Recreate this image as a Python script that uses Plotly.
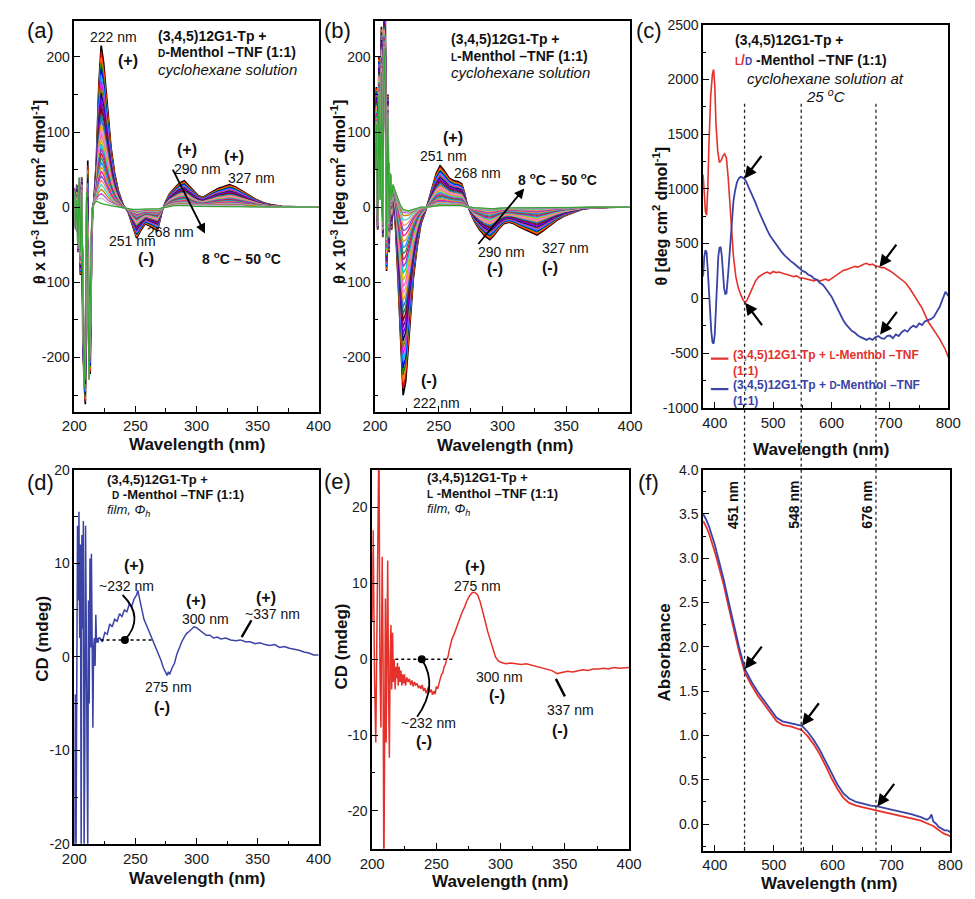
import plotly.graph_objects as go

W, H = 975, 899
FONT = "Liberation Sans, Arial, sans-serif"
BLUE = "#3b43a6"
RED = "#e5312a"

# ---------------- (a)/(b) temperature-dependent CD in cyclohexane ----------------
wl_sol = [200, 201, 202, 203, 204, 205, 206, 207, 208,
          209, 210, 211, 212, 213, 214, 215, 216,
          218, 220, 222, 224, 226, 228, 230,
          233, 236, 240, 244, 248,
          251, 254, 258, 262, 265, 268, 270, 272, 275, 278,
          282, 286, 290, 293, 297, 301, 305, 309, 313, 318,
          322, 327, 332, 337, 342, 348, 355, 362, 370, 380,
          390, 400]

# D-menthol complex, 8 C (outermost) and 50 C (innermost) spectra
theta_d_8C = [25, -20, 30, -60, 15, -90, 40, -180, -230,
              -262, -120, 62, -200, -222, -80, 0, 8,
              60, 160, 215, 192, 152, 115, 80,
              45, 22, 3, -6, -26,
              -41, -32, -22, -25, -28, -31, -18, -4, 8, 18,
              25, 32, 35, 30, 22, 16, 13, 17, 21, 25,
              27, 30, 27, 22, 17, 11, 6, 3, 1, 0,
              0, 0]
theta_d_50C = [20, -30, 10, -50, 40, -60, 20, -120, -240,
               -170, 20, -100, -230, -140, -30, 0, 4,
               8, 6, 5, 4, 3, 2, 2,
               1, 0, -1, -2, -3,
               -3, -3, -2, -2, -2, -2, -2, -1, 0, 1,
               2, 2, 2, 2, 1, 1, 1, 1, 1, 1,
               1, 1, 1, 1, 0, 0, 0, 0, 0, 0,
               0, 0]
# 222 nm band height of every recorded temperature, 8 C -> 50 C
peak222_d = [215, 207, 199, 192, 184, 176, 168, 160, 152, 145, 138, 131, 124, 117, 110, 103,
             97, 90, 84, 78, 72, 66, 60, 54, 48, 42, 36, 30, 24, 18, 12, 5]

# L-menthol complex
theta_l_8C = [60, 160, -30, 200, 20, 240, -40, 265, 262,
              -85, 150, -60, 40, -30, 10, -5, -25,
              -95, -180, -250, -232, -188, -140, -95,
              -52, -22, -3, 20, 45,
              55, 49, 39, 35, 34, 31, 20, 5, -8, -19,
              -30, -38, -43, -38, -29, -22, -20, -22, -26, -30,
              -33, -37, -31, -24, -18, -12, -7, -3, -1, 0,
              0, 0]
theta_l_50C = [50, 110, -20, 150, 10, 180, -20, 210, 170,
               -40, 120, -20, 45, 10, 30, 25, 20,
               10, 2, -3, -4, -5, -4, -3,
               -1, 0, 0, 1, 2,
               2, 2, 2, 2, 2, 2, 1, 0, 0, -1,
               -1, -2, -2, -2, -1, -1, -1, -1, -1, -1,
               -1, -1, -1, 0, 0, 0, 0, 0, 0, 0,
               0, 0]
peak222_l = [-250, -241, -232, -223, -214, -205, -196, -187, -178, -169, -160, -151, -142, -133,
             -124, -115, -106, -97, -88, -79, -70, -62, -54, -46, -38, -31, -24, -17, -11, -7, -5, -3]

curve_colors = ["#000000", "#ff0000", "#ff7f00", "#007f00", "#0000ff", "#00bfff", "#ff00ff", "#808000",
                "#000080", "#8000ff", "#800080", "#800000", "#008080", "#4169e1", "#ffa500", "#ee82ee",
                "#ff69b4", "#c8c800", "#00ced1", "#9932cc", "#dc143c", "#2e8b57", "#1e90ff", "#daa520",
                "#ff1493", "#6a5acd", "#ff8c69", "#48d1cc", "#b8860b", "#ba55d3", "#c0c0c0", "#33a532"]

# ---------------- (c) CD at 25 C, visible range ----------------
wl_c_red = [380, 382, 384, 386, 388, 390, 393, 396, 398, 400,
            402, 405, 408, 411, 414, 417, 420, 423, 426, 429,
            432, 436, 440, 444, 448, 452, 456, 460, 465, 470,
            475, 480, 485, 490, 495, 500, 505, 510, 515, 520,
            525, 530, 535, 540, 545, 550, 555, 560, 565, 570,
            575, 580, 585, 590, 595, 600, 605, 610, 615, 620,
            625, 630, 635, 640, 645, 650, 655, 660, 665, 670,
            675, 680, 685, 690, 695, 700, 705, 710, 715, 720,
            727, 735, 740, 748, 755, 765, 775, 785, 795, 800]
theta_c_red = [1130, 950, 790, 760, 1000, 1400, 1850, 2050, 2090, 1950,
               1600, 1350, 1240, 1260, 1300, 1320, 1280, 1100, 880, 600,
               380, 200, 100, 40, -10, -40, -10, 40, 100, 160,
               195, 215, 230, 240, 225, 245, 235, 240, 228, 222,
               215, 205, 198, 205, 188, 185, 178, 172, 168, 160,
               170, 158, 168, 175, 162, 180, 200, 222, 238, 255,
               262, 272, 282, 292, 285, 302, 312, 320, 305, 312,
               295, 290, 280, 282, 262, 250, 232, 212, 195, 175,
               140, 80, 40, -30, -90, -210, -290, -370, -470, -540]

wl_c_blue = [380, 382, 384, 386, 388, 390, 392, 394, 396, 398,
             400, 402, 404, 406, 408, 410, 412, 414, 416, 418,
             420, 423, 426, 429, 432, 435, 438, 441, 444, 447,
             450, 453, 456, 460, 465, 470, 475, 480, 485, 490,
             495, 500, 505, 510, 515, 520, 525, 530, 535, 540,
             545, 550, 555, 560, 565, 570, 575, 580, 585, 590,
             595, 600, 605, 610, 615, 620, 625, 630, 635, 640,
             645, 650, 655, 660, 665, 670, 675, 680, 685, 690,
             695, 700, 705, 710, 715, 720, 725, 730, 735, 740,
             745, 750, 755, 760, 765, 770, 775, 780, 785, 790,
             795, 800]
theta_c_blue = [200, 380, 440, 420, 260, 60, -150, -300, -400, -415,
                -330, -80, 180, 380, 460, 470, 390, 220, 90, 40,
                45, 230, 480, 730, 890, 990, 1060, 1095, 1110, 1105,
                1095, 1075, 1040, 1000, 930, 870, 800, 740, 670, 620,
                570, 530, 490, 450, 420, 390, 360, 340, 320, 300,
                275, 250, 240, 215, 205, 180, 170, 140, 125, 90,
                55, 15, -40, -95, -150, -200, -240, -270, -300, -315,
                -340, -355, -370, -380, -365, -380, -355, -345, -365, -370,
                -345, -340, -365, -330, -345, -310, -290, -305, -270, -250,
                -265, -230, -245, -210, -200, -190, -170, -120, -80, -10,
                60, 20]

# ---------------- (d)/(e) film CD ----------------
wl_film_d = [200, 200.7, 201.4, 202, 202.6, 203.2, 203.8, 204.4, 205, 205.6,
             206.2, 206.8, 207.4, 208, 208.6, 209.2, 209.8, 210.4, 211, 211.6,
             212.2, 212.8, 213.4, 214, 214.6, 215.2, 215.8, 216.4, 217, 217.6,
             218.2, 218.8, 219.4, 220,
             221, 223, 225, 227, 229, 231, 233, 235, 237, 239,
             241, 243, 245, 247, 249, 251, 252, 253, 255, 257,
             259, 261, 263, 265, 267, 269, 271, 273, 275, 276,
             277, 278, 280, 282, 284, 286, 288, 290, 292, 294,
             296, 298, 300, 302, 305, 308, 311, 314, 317, 320,
             324, 328, 332, 336, 340, 344, 348, 352, 356, 360,
             364, 368, 372, 376, 380, 384, 388, 392, 396, 400]
cd_film_d = [-21, -4, -21, 3, 14, 6, 15.5, 2, 12, -21,
             13, 3, 14.5, -21, -10, 14, 2, -21, -21, 6,
             -5, 10.5, 1, 11, 2, -7.6, 1, 2, -1, 4.5,
             1.5, 2, 1.5, 2,
             2.0, 1.6, 2.6, 2.4, 3.5, 3.2, 4.0, 3.8, 4.6, 4.3,
             5.0, 4.8, 5.6, 5.4, 6.2, 6.6, 7.1, 6.5, 5.2, 4.0,
             3.4, 2.8, 2.2, 1.4, 0.8, 0.2, -0.4, -1.2, -1.8, -2.0,
             -1.6, -1.9, -1.2, -0.7, 0.3, 1.0, 1.6, 2.1, 2.5, 2.7,
             3.0, 3.2, 3.1, 2.9, 2.6, 2.3, 2.3, 2.0, 2.1, 1.9,
             2.0, 1.8, 1.7, 1.8, 1.6, 1.6, 1.4, 1.5, 1.3, 1.2,
             1.3, 1.0, 1.1, 0.9, 0.8, 0.7, 0.5, 0.4, 0.2, 0.2]

wl_film_l = ([200, 200.8, 201.8, 202.8, 203.6, 204.4, 205.3, 206, 206.8, 207.8,
              208.5, 209.1, 209.8, 210.3, 210.9, 211.5, 212.1, 212.8, 213.4, 214,
              214.6, 215.2, 215.9, 216.5, 217.1, 217.9, 218.5, 219.1, 219.7, 220.3,
              221, 221.7, 222.4, 223.1, 223.8, 224.5, 225.2, 226]
             + list(range(227, 260)) + list(range(260, 301, 2)) + list(range(304, 401, 4)))
cd_film_l = [5, 17, -2, -11, 2, 10, 30, 0, -9, 13.5,
             0, -30, -5, 8, -11, 4, 13, -5, -13, 0,
             4.5, -4, 3.5, -3, 0, -4, -1, -2.5, -0.5, -3.5,
             -1, -3, -1.5, -3.5, -2, -3.2, -2, -3.5,
             -2.4, -3.0, -2.6, -3.4, -2.8, -3.6, -3.0, -3.4, -3.2, -3.8,
             -3.5, -3.9, -3.4, -4.2, -3.8, -4.5, -3.9, -3.6, -4.4, -4.0,
             -4.7, -4.2, -4.6, -3.6, -3.9, -3.0, -2.6, -2.0, -1.8, -1.0,
             -0.7, 0.0, 0.3,
             1.2, 2.6, 3.4, 4.4, 5.3, 6.2, 6.9, 7.8, 8.4, 8.8,
             8.8, 8.5, 7.6, 6.4, 5.0, 3.6, 2.4, 1.2, 0.3, -0.2, -0.4,
             -0.6, -0.5, -0.6, -0.7, -0.6, -0.8, -0.9, -1.1, -1.3, -1.5,
             -1.9, -1.8, -1.6, -1.7, -1.5, -1.4, -1.5, -1.3, -1.3, -1.2,
             -1.3, -1.1, -1.2, -1.1, -1.1]

# ---------------- (f) absorbance ----------------
wl_abs = [380, 385, 390, 395, 400, 405, 410, 415, 423, 432,
          441, 451, 462, 473, 486, 495, 505, 515, 530, 548,
          558, 568, 578, 588, 598, 608, 618, 628, 640, 652,
          665, 676, 690, 705, 720, 735, 750, 760, 765, 768,
          771, 775, 780, 785, 790, 795, 800]
abs_d = [3.50, 3.44, 3.36, 3.26, 3.15, 3.02, 2.90, 2.76, 2.52, 2.26,
         2.00, 1.75, 1.61, 1.49, 1.37, 1.28, 1.20, 1.16, 1.14, 1.11,
         1.04, 0.95, 0.84, 0.71, 0.57, 0.45, 0.35, 0.29, 0.25, 0.23,
         0.21, 0.20, 0.18, 0.15, 0.13, 0.11, 0.08, 0.05, 0.07, 0.11,
         0.03, 0.01, -0.03, -0.05, -0.07, -0.07, -0.09]
abs_l = [3.42, 3.36, 3.28, 3.18, 3.07, 2.95, 2.83, 2.70, 2.46, 2.21,
         1.95, 1.71, 1.57, 1.45, 1.33, 1.24, 1.16, 1.12, 1.10, 1.06,
         0.99, 0.90, 0.79, 0.66, 0.52, 0.40, 0.30, 0.24, 0.21, 0.19,
         0.17, 0.16, 0.14, 0.11, 0.09, 0.07, 0.04, 0.01, 0.00, -0.01,
         -0.02, -0.04, -0.07, -0.09, -0.11, -0.12, -0.14]

marked_wl = [451, 548, 676]


# ---------------- helpers ----------------
def fx(x):
    return x / W


def fy(y):
    return 1 - y / H


def blend(top, base, peak, i_ref):
    f = (peak - base[i_ref]) / (top[i_ref] - base[i_ref])
    return [b + f * (t - b) for t, b in zip(top, base)]


def axis(rng, dom, anchor, vals, texts, minor0, minor_dt, size=15):
    return dict(range=rng, domain=dom, anchor=anchor, showline=True, linecolor="black",
                linewidth=1.5, mirror=True, ticks="inside", ticklen=6, tickwidth=1.3,
                tickcolor="black", tickmode="array", tickvals=vals, ticktext=texts,
                tickfont=dict(family=FONT, size=size, color="#1a1a1a"),
                minor=dict(ticks="inside", ticklen=3.5, tickwidth=1, tickcolor="black",
                           tickmode="linear", tick0=minor0, dtick=minor_dt),
                showgrid=False, zeroline=False)


boxes = {  # left, right, top, bottom in pixels
    "": (63, 314, 13, 411),
    "2": (372, 634, 13, 411),
    "3": (709, 961, 17, 407),
    "4": (63, 314, 470, 851),
    "5": (369, 633, 470, 856),
    "6": (709, 963, 470, 858),
}


def xdom(k):
    return [fx(boxes[k][0]), fx(boxes[k][1])]


def ydom(k):
    return [fy(boxes[k][3]), fy(boxes[k][2])]


fig = go.Figure()

# (a) and (b): temperature series
i222 = wl_sol.index(222)
for k, pk in enumerate(peak222_d):
    fig.add_trace(go.Scatter(x=wl_sol, y=blend(theta_d_8C, theta_d_50C, pk, i222), mode="lines",
                             line=dict(color=curve_colors[k], width=1.7 if k == 0 else 1.3),
                             xaxis="x", yaxis="y", showlegend=False, hoverinfo="skip"))
for k, pk in enumerate(peak222_l):
    fig.add_trace(go.Scatter(x=wl_sol, y=blend(theta_l_8C, theta_l_50C, pk, i222), mode="lines",
                             line=dict(color=curve_colors[k], width=1.7 if k == 0 else 1.3),
                             xaxis="x2", yaxis="y2", showlegend=False, hoverinfo="skip"))

# (c)
fig.add_trace(go.Scatter(x=wl_c_red, y=theta_c_red, mode="lines", line=dict(color=RED, width=1.6),
                         xaxis="x3", yaxis="y3", showlegend=False))
fig.add_trace(go.Scatter(x=wl_c_blue, y=theta_c_blue, mode="lines", line=dict(color=BLUE, width=1.8),
                         xaxis="x3", yaxis="y3", showlegend=False))

# (d)
fig.add_trace(go.Scatter(x=wl_film_d, y=cd_film_d, mode="lines", line=dict(color=BLUE, width=1.5),
                         xaxis="x4", yaxis="y4", showlegend=False))
fig.add_trace(go.Scatter(x=[221.5, 264], y=[1.8, 1.8], mode="lines",
                         line=dict(color="black", width=1.5, dash="dot"),
                         xaxis="x4", yaxis="y4", showlegend=False))
fig.add_trace(go.Scatter(x=[241.4], y=[1.8], mode="markers", marker=dict(color="black", size=8),
                         xaxis="x4", yaxis="y4", showlegend=False))

# (e)
fig.add_trace(go.Scatter(x=wl_film_l, y=cd_film_l, mode="lines", line=dict(color=RED, width=1.5),
                         xaxis="x5", yaxis="y5", showlegend=False))
fig.add_trace(go.Scatter(x=[218, 263], y=[0, 0], mode="lines",
                         line=dict(color="black", width=1.5, dash="dot"),
                         xaxis="x5", yaxis="y5", showlegend=False))
fig.add_trace(go.Scatter(x=[238.6], y=[0], mode="markers", marker=dict(color="black", size=8),
                         xaxis="x5", yaxis="y5", showlegend=False))

# (f)
fig.add_trace(go.Scatter(x=wl_abs, y=abs_l, mode="lines", line=dict(color=RED, width=1.8),
                         xaxis="x6", yaxis="y6", showlegend=False))
fig.add_trace(go.Scatter(x=wl_abs, y=abs_d, mode="lines", line=dict(color=BLUE, width=1.8),
                         xaxis="x6", yaxis="y6", showlegend=False))

# ---------------- axes ----------------
wl_ticks = [200, 250, 300, 350, 400]
vis_ticks = [400, 500, 600, 700, 800]
sol_y = [-200, -100, 0, 100, 200]
layout_axes = dict(
    xaxis=axis([200, 400], xdom(""), "y", wl_ticks, [str(v) for v in wl_ticks], 200, 25),
    yaxis=axis([-272, 248], ydom(""), "x", sol_y, [str(v) for v in sol_y], 0, 50, 14),
    xaxis2=axis([200, 400], xdom("2"), "y2", wl_ticks, [str(v) for v in wl_ticks], 200, 25),
    yaxis2=axis([-272, 248], ydom("2"), "x2", sol_y, [str(v) for v in sol_y], 0, 50, 14),
    xaxis3=axis([380, 800], xdom("3"), "y3", vis_ticks, [str(v) for v in vis_ticks], 400, 50),
    yaxis3=axis([-1000, 2500], ydom("3"), "x3",
                [-1000, -500, 0, 500, 1000, 1500, 2000, 2500],
                ["-1000", "-500", "0", "500", "1000", "1500", "2000", "2500"], 0, 250, 14),
    xaxis4=axis([200, 400], xdom("4"), "y4", wl_ticks, [str(v) for v in wl_ticks], 200, 25),
    yaxis4=axis([-20, 20], ydom("4"), "x4", [-20, -10, 0, 10, 20],
                ["-20", "-10", "0", "10", "20"], 0, 5, 14),
    xaxis5=axis([200, 400], xdom("5"), "y5", wl_ticks, [str(v) for v in wl_ticks], 200, 25),
    yaxis5=axis([-25, 25], ydom("5"), "x5", [-20, -10, 0, 10, 20],
                ["-20", "-10", "0", "10", "20"], 0, 5, 14),
    xaxis6=axis([380, 800], xdom("6"), "y6", vis_ticks, [str(v) for v in vis_ticks], 400, 50),
    yaxis6=axis([-0.3, 4.0], ydom("6"), "x6", [0, 0.5, 1, 1.5, 2, 2.5, 3, 3.5, 4],
                ["0.0", "0.5", "1.0", "1.5", "2.0", "2.5", "3.0", "3.5", "4.0"], 0, 0.25, 14),
)

# ---------------- text ----------------
ann = []


def paper_text(text, x, y, size=14, xanchor="center", yanchor="middle", angle=0, color="#111",
               align="center"):
    ann.append(dict(text=text, x=fx(x), y=fy(y), xref="paper", yref="paper", showarrow=False,
                    xanchor=xanchor, yanchor=yanchor, textangle=angle, align=align,
                    font=dict(family=FONT, size=size, color=color)))


def data_text(text, x, y, s, size=14, color="#111", angle=0):
    ann.append(dict(text=text, x=x, y=y, xref="x" + s, yref="y" + s, showarrow=False,
                    textangle=angle, font=dict(family=FONT, size=size, color=color)))


def pointer(x, y, s, ax, ay):
    ann.append(dict(text="", x=x, y=y, xref="x" + s, yref="y" + s, showarrow=True,
                    ax=ax, ay=ay, arrowhead=2, arrowsize=1.1, arrowwidth=2.2, arrowcolor="black"))


def long_arrow(x0, y0, x1, y1, s):
    ann.append(dict(text="", x=x1, y=y1, xref="x" + s, yref="y" + s, ax=x0, ay=y0,
                    axref="x" + s, ayref="y" + s, showarrow=True, arrowhead=2, arrowsize=1.1,
                    arrowwidth=1.8, arrowcolor="black"))


SC = "<span style='font-size:10px'>{}</span>"

# panel letters
for lab, x, y in [("(a)", 28, 23), ("(b)", 333, 23), ("(c)", 653, 23),
                  ("(d)", 28, 483), ("(e)", 333, 482), ("(f)", 653, 483)]:
    paper_text(lab, x, y, size=22)

# axis titles
theta_title = "<b>θ x 10<sup>-3</sup> [deg cm<sup>2</sup> dmol<sup>-1</sup>]</b>"
for x, y in [(189, 444), (505, 445), (830, 449), (189, 886), (500, 889), (838, 891)]:
    paper_text("<b>Wavelength (nm)</b>", x, y, size=17)
paper_text(theta_title, 26, 187, size=16, angle=-90)
paper_text(theta_title, 334, 187, size=16, angle=-90)
paper_text("<b>θ [deg cm<sup>2</sup> dmol<sup>-1</sup>]</b>", 665, 212, size=16, angle=-90)
paper_text("<b>CD (mdeg)</b>", 30, 642, size=17, angle=-90)
paper_text("<b>CD (mdeg)</b>", 337, 650, size=17, angle=-90)
paper_text("<b>Absorbance</b>", 669, 656, size=17, angle=-90)

# sample headers
paper_text("<b>(3,4,5)12G1-Tp +</b>", 147, 28, size=14, xanchor="left")
paper_text("<b>" + SC.format("D") + "-Menthol –TNF (1:1)</b>", 147, 45, size=14, xanchor="left")
paper_text("<i>cyclohexane solution</i>", 147, 63, size=15, xanchor="left")
paper_text("<b>(3,4,5)12G1-Tp +</b>", 448, 32, size=14, xanchor="left")
paper_text("<b>" + SC.format("L") + "-Menthol –TNF (1:1)</b>", 448, 49, size=14, xanchor="left")
paper_text("<i>cyclohexane solution</i>", 448, 66, size=15, xanchor="left")
paper_text("<b>(3,4,5)12G1-Tp +</b>", 740, 33, size=14, xanchor="left")
paper_text("<b><span style='color:" + RED + "'>" + SC.format("L") + "/</span><span style='color:" + BLUE
           + "'>" + SC.format("D") + "</span> -Menthol –TNF (1:1)</b>", 740, 53, size=14, xanchor="left")
paper_text("<i>cyclohexane solution at</i>", 835, 72, size=15)
paper_text("<i>25 <sup>o</sup>C</i>", 835, 89, size=15)
paper_text("<b>(3,4,5)12G1-Tp +</b>", 95, 480, size=13, xanchor="left")
paper_text("<b>" + SC.format("D") + " -Menthol –TNF (1:1)</b>", 100, 495, size=13, xanchor="left")
paper_text("<i>film, Φ<sub>h</sub></i>", 95, 512, size=13, xanchor="left")
paper_text("<b>(3,4,5)12G1-Tp +</b>", 423, 478, size=13, xanchor="left")
paper_text("<b>" + SC.format("L") + " -Menthol –TNF (1:1)</b>", 423, 494, size=13, xanchor="left")
paper_text("<i>film, Φ<sub>h</sub></i>", 423, 511, size=13, xanchor="left")

# (c) legend
paper_text("<b>(3,4,5)12G1-Tp + " + SC.format("L") + "-Menthol –TNF<br>(1:1)</b>", 738, 344,
           size=12, xanchor="left", yanchor="top", color=RED, align="left")
paper_text("<b>(3,4,5)12G1-Tp + " + SC.format("D") + "-Menthol –TNF<br>(1:1)</b>", 738, 375,
           size=12, xanchor="left", yanchor="top", color=BLUE, align="left")

# (a) band labels
data_text("222 nm", 232, 227, "")
data_text("<b>(+)</b>", 244, 195, "", size=16)
data_text("<b>(+)</b>", 292, 77, "", size=16)
data_text("290 nm", 301, 51, "")
data_text("<b>(+)</b>", 331, 68, "", size=16)
data_text("327 nm", 345, 39, "")
data_text("268 nm", 279, -33, "")
data_text("251 nm", 248, -45, "")
data_text("<b>(-)</b>", 259, -68, "", size=16)
data_text("<b>8 <sup>o</sup>C – 50 <sup>o</sup>C</b>", 337, -67, "", size=14)
long_arrow(280, 52, 307, -35, "")

# (b) band labels
data_text("<b>(+)</b>", 261, 93, "2", size=16)
data_text("251 nm", 254, 68, "2")
data_text("268 nm", 280, 46, "2")
data_text("<b>8 <sup>o</sup>C – 50 <sup>o</sup>C</b>", 343, 38, "2", size=14)
long_arrow(280, -51, 317, 25, "2")
data_text("290 nm", 299, -60, "2")
data_text("<b>(-)</b>", 294, -82, "2", size=16)
data_text("327 nm", 349, -54, "2")
data_text("<b>(-)</b>", 337, -80, "2", size=16)
data_text("<b>(-)</b>", 242, -230, "2", size=16)
data_text("222 nm", 248, -260, "2")

# (c) pointers
pointer(451, 1095, "3", 18, -24)
pointer(452, -40, "3", 18, 24)
pointer(682, 285, "3", 18, -24)
pointer(683, -330, "3", 18, -24)

# (d) band labels
data_text("<b>(+)</b>", 249, 9.7, "4", size=16)
data_text("~232 nm", 243, 7.6, "4")
data_text("<b>(+)</b>", 300, 6.0, "4", size=16)
data_text("300 nm", 307, 4.0, "4")
data_text("<b>(+)</b>", 357, 6.3, "4", size=16)
data_text("~337 nm", 362, 4.6, "4")
data_text("275 nm", 277, -3.2, "4")
data_text("<b>(-)</b>", 272, -5.4, "4", size=16)

# (e) band labels
data_text("<b>(+)</b>", 280, 12.2, "5", size=16)
data_text("275 nm", 282, 9.6, "5")
data_text("~232 nm", 244, -8.4, "5")
data_text("<b>(-)</b>", 240, -10.8, "5", size=16)
data_text("300 nm", 299, -2.4, "5")
data_text("<b>(-)</b>", 297, -4.8, "5", size=16)
data_text("337 nm", 354, -6.7, "5")
data_text("<b>(-)</b>", 346, -9.4, "5", size=16)

# (f) marked wavelengths and pointers
for wl, xlab in zip(marked_wl, [431, 534, 658]):
    data_text("<b>%d nm</b>" % wl, xlab, 3.6, "6", size=14, angle=-90)
pointer(451, 1.75, "6", 18, -24)
pointer(548, 1.11, "6", 18, -24)
pointer(676, 0.20, "6", 18, -24)

# ---------------- shapes ----------------
shapes = []
for wl in marked_wl:
    shapes.append(dict(type="line", xref="x3", yref="paper", x0=wl, x1=wl, y0=fy(858), y1=fy(97),
                       line=dict(color="#222", width=1.3, dash="3px,3px")))
# legend swatches in (c)
shapes.append(dict(type="line", xref="paper", yref="paper", x0=fx(717), x1=fx(735), y0=fy(357), y1=fy(357),
                   line=dict(color=RED, width=2.2)))
shapes.append(dict(type="line", xref="paper", yref="paper", x0=fx(717), x1=fx(735), y0=fy(388), y1=fy(388),
                   line=dict(color=BLUE, width=2.2)))
# leader curves in (d) and (e)
shapes.append(dict(type="path", xref="x4", yref="y4", path="M 241.4,1.8 Q 258,4.2 239.5,6.6",
                   line=dict(color="black", width=1.8)))
shapes.append(dict(type="line", xref="x4", yref="y4", x0=337, y0=2.1, x1=345, y1=3.9,
                   line=dict(color="black", width=2.4)))
shapes.append(dict(type="path", xref="x5", yref="y5", path="M 238.6,0 Q 252,-3.5 235,-7.6",
                   line=dict(color="black", width=1.8)))
shapes.append(dict(type="line", xref="x5", yref="y5", x0=343, y0=-2.6, x1=350, y1=-4.9,
                   line=dict(color="black", width=2.4)))

fig.update_layout(
    width=W, height=H, margin=dict(l=0, r=0, t=0, b=0),
    paper_bgcolor="white", plot_bgcolor="white",
    font=dict(family=FONT, color="#111"),
    showlegend=False, annotations=ann, shapes=shapes, **layout_axes,
)

fig.write_html("out.html")
